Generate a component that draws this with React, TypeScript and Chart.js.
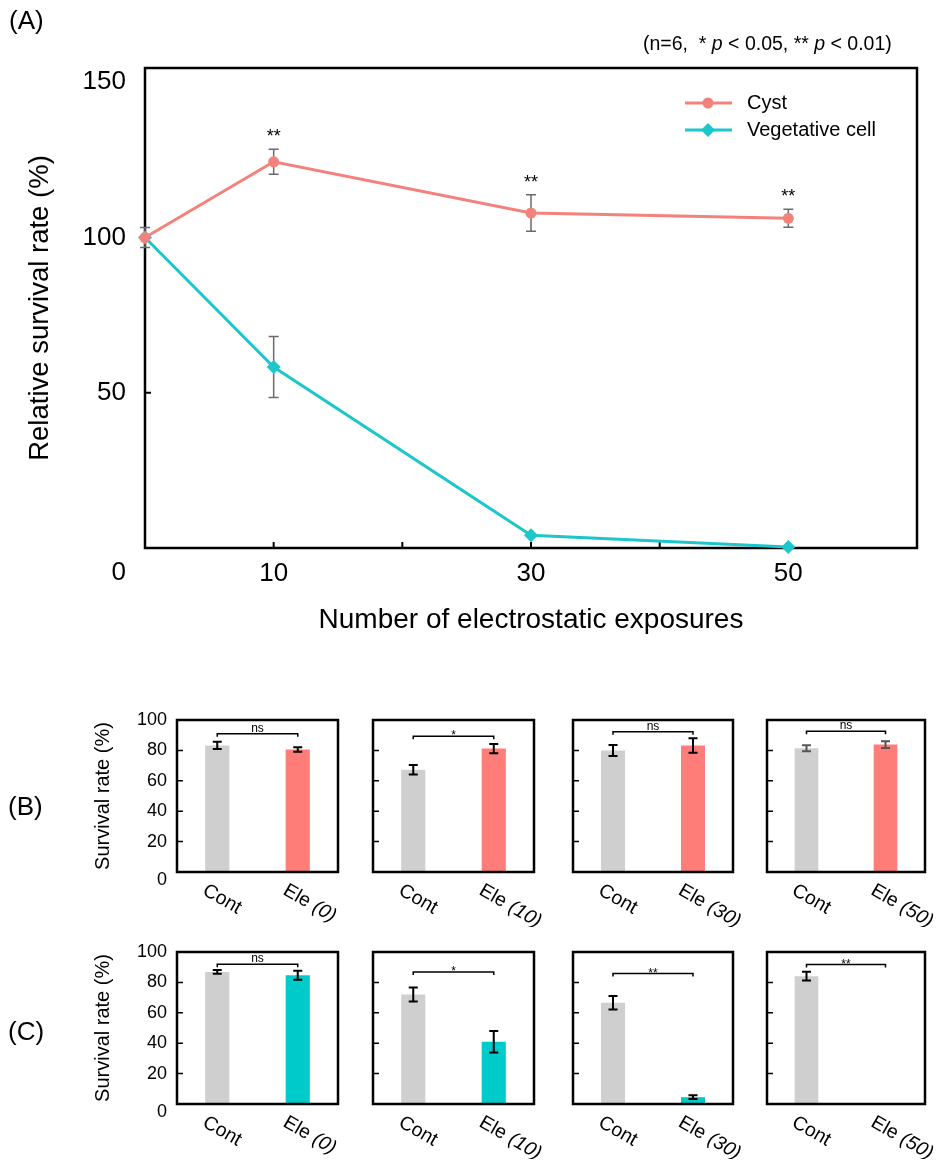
import React, { useEffect, useRef } from 'react';
import { Chart, registerables } from 'chart.js';

Chart.register(...registerables);

const FONT = '"Liberation Sans", Arial, Helvetica, sans-serif';
Chart.defaults.font.family = FONT;
Chart.defaults.color = '#000';

// ---------- Panel A data ----------
const exposuresA = [0, 10, 30, 50];
const cystMean = [100, 124.4, 107.9, 106.2];
const cystErr = [3.2, 4.0, 5.9, 2.9];
const vegMean = [100, 58.3, 4.1, 0.3];
const vegErr = [0, 9.8, 0, 0];
const cystStars = ['', '**', '**', '**'];
const xTickLabelsA = [10, 30, 50];
const xTickMarksA = [10, 20, 30, 40, 50];
const yTickLabelsA = [50, 100, 150];
const yTickMarksA = [50, 100];

// ---------- Panels B / C data ----------
const barExposures = ['0', '10', '30', '50'];
const cystCont = [83.3, 67.3, 79.9, 81.4];
const cystContErr = [2.4, 3.1, 3.6, 2.0];
const cystEle = [80.6, 81.2, 83.2, 83.8];
const cystEleErr = [1.5, 3.0, 4.8, 2.3];
const cystSig = ['ns', '*', 'ns', 'ns'];
const cystBracket = [91, 89.3, 92.2, 92.6];

const vegCont = [86.9, 72.1, 66.6, 84.1];
const vegContErr = [1.2, 4.6, 4.5, 2.9];
const vegEle = [84.7, 41.0, 4.5, 0];
const vegEleErr = [3.0, 7.1, 1.2, 0];
const vegSig = ['ns', '*', '**', '**'];
const vegBracket = [91.9, 86.9, 85.8, 91.7];

const barYTicks = [20, 40, 60, 80];

// ---------- colours ----------
const CYST_LINE = '#F4827C';
const VEG_LINE = '#1CC6CA';
const BAR_GRAY = '#CFCFCF';
const BAR_SALMON = '#FF7D78';
const BAR_CYAN = '#00CBCB';

type Part = { t: string; italic?: boolean };

function drawRich(ctx: CanvasRenderingContext2D, parts: Part[], x: number, y: number, size: number) {
  let cx = x;
  parts.forEach((p) => {
    ctx.font = `${p.italic ? 'italic ' : ''}${size}px ${FONT}`;
    ctx.fillText(p.t, cx, y);
    cx += ctx.measureText(p.t).width;
  });
}

function PanelA() {
  const ref = useRef<HTMLCanvasElement>(null);
  useEffect(() => {
    const canvas = ref.current!;
    const plugin = {
      id: 'panelA',
      beforeDatasetsDraw(chart: any) {
        const { ctx, chartArea: a, scales } = chart;
        const x = scales.x;
        const y = scales.y;
        ctx.save();
        ctx.strokeStyle = '#000';
        ctx.lineWidth = 2.5;
        ctx.strokeRect(a.left, a.top, a.right - a.left, a.bottom - a.top);
        ctx.lineWidth = 2;
        ctx.beginPath();
        xTickMarksA.forEach((v) => {
          const px = x.getPixelForValue(v);
          ctx.moveTo(px, a.bottom);
          ctx.lineTo(px, a.bottom - 6);
        });
        yTickMarksA.forEach((v) => {
          const py = y.getPixelForValue(v);
          ctx.moveTo(a.left, py);
          ctx.lineTo(a.left + 6, py);
        });
        ctx.stroke();
        // error bars
        ctx.strokeStyle = '#6b6b6b';
        ctx.lineWidth = 1.5;
        const series = [
          { m: cystMean, e: cystErr },
          { m: vegMean, e: vegErr },
        ];
        series.forEach((s) => {
          exposuresA.forEach((xv, i) => {
            if (!s.e[i]) return;
            const px = x.getPixelForValue(xv);
            const top = y.getPixelForValue(s.m[i] + s.e[i]);
            const bot = y.getPixelForValue(s.m[i] - s.e[i]);
            ctx.beginPath();
            ctx.moveTo(px, top);
            ctx.lineTo(px, bot);
            ctx.moveTo(px - 5, top);
            ctx.lineTo(px + 5, top);
            ctx.moveTo(px - 5, bot);
            ctx.lineTo(px + 5, bot);
            ctx.stroke();
          });
        });
        ctx.restore();
      },
      afterDraw(chart: any) {
        const { ctx, chartArea: a, scales } = chart;
        const x = scales.x;
        const y = scales.y;
        ctx.save();
        ctx.fillStyle = '#000';
        // stars
        ctx.font = `18px ${FONT}`;
        ctx.textAlign = 'center';
        ctx.textBaseline = 'alphabetic';
        exposuresA.forEach((xv, i) => {
          if (!cystStars[i]) return;
          const px = x.getPixelForValue(xv);
          const py = y.getPixelForValue(cystMean[i] + cystErr[i]);
          ctx.fillText(cystStars[i], px, py - 7);
        });
        // "0" corner label
        ctx.font = `26px ${FONT}`;
        ctx.textAlign = 'right';
        ctx.textBaseline = 'middle';
        ctx.fillText('0', a.left - 19, a.bottom + 25);
        // panel label
        ctx.textAlign = 'left';
        ctx.fillText('(A)', 9, 22);
        // annotation
        ctx.textBaseline = 'middle';
        drawRich(
          ctx,
          [
            { t: '(n=6,  * ' },
            { t: 'p', italic: true },
            { t: ' < 0.05, ** ' },
            { t: 'p', italic: true },
            { t: ' < 0.01)' },
          ],
          643,
          45,
          19.5
        );
        // legend
        const rows = [
          { y: 103, color: CYST_LINE, style: 'circle', label: 'Cyst' },
          { y: 130, color: VEG_LINE, style: 'diamond', label: 'Vegetative cell' },
        ];
        rows.forEach((r) => {
          ctx.strokeStyle = r.color;
          ctx.fillStyle = r.color;
          ctx.lineWidth = 3;
          ctx.beginPath();
          ctx.moveTo(685, r.y);
          ctx.lineTo(732, r.y);
          ctx.stroke();
          ctx.beginPath();
          if (r.style === 'circle') {
            ctx.arc(708, r.y, 5.5, 0, Math.PI * 2);
          } else {
            ctx.moveTo(708, r.y - 7);
            ctx.lineTo(715, r.y);
            ctx.lineTo(708, r.y + 7);
            ctx.lineTo(701, r.y);
            ctx.closePath();
          }
          ctx.fill();
          ctx.fillStyle = '#000';
          ctx.font = `20px ${FONT}`;
          ctx.textAlign = 'left';
          ctx.textBaseline = 'middle';
          ctx.fillText(r.label, 747, r.y);
        });
        ctx.restore();
      },
    };
    const chart = new Chart(canvas, {
      type: 'line',
      data: {
        datasets: [
          {
            label: 'Cyst',
            data: exposuresA.map((xv, i) => ({ x: xv, y: cystMean[i] })),
            borderColor: CYST_LINE,
            backgroundColor: CYST_LINE,
            borderWidth: 3,
            pointStyle: 'circle',
            pointRadius: 5.5,
            pointBorderWidth: 0,
            tension: 0,
            clip: false as any,
          },
          {
            label: 'Vegetative cell',
            data: exposuresA.map((xv, i) => ({ x: xv, y: vegMean[i] })),
            borderColor: VEG_LINE,
            backgroundColor: VEG_LINE,
            borderWidth: 3,
            pointStyle: 'rectRot',
            pointRadius: 7,
            pointBorderWidth: 0,
            tension: 0,
            clip: false as any,
          },
        ],
      },
      options: {
        animation: false,
        responsive: false,
        layout: { padding: { left: 0, top: 68, right: 28, bottom: 0 } },
        plugins: { legend: { display: false }, tooltip: { enabled: false } },
        scales: {
          x: {
            type: 'linear',
            min: 0,
            max: 60,
            afterBuildTicks: (s: any) => {
              s.ticks = xTickLabelsA.map((v) => ({ value: v }));
            },
            ticks: { font: { size: 26, family: FONT }, color: '#000', padding: 10, autoSkip: false, maxRotation: 0 },
            grid: { display: false, drawTicks: false },
            border: { display: false },
            title: {
              display: true,
              text: 'Number of electrostatic exposures',
              font: { size: 28, family: FONT },
              color: '#000',
              padding: { top: 0, bottom: 13 },
            },
            afterFit: (s: any) => {
              s.height = 102;
            },
          },
          y: {
            type: 'linear',
            min: 0,
            max: 154.6,
            afterBuildTicks: (s: any) => {
              s.ticks = yTickLabelsA.map((v) => ({ value: v }));
            },
            ticks: { font: { size: 26, family: FONT }, color: '#000', padding: 19 },
            grid: { display: false, drawTicks: false },
            border: { display: false },
            title: {
              display: true,
              text: 'Relative survival rate (%)',
              font: { size: 27.5, family: FONT },
              color: '#000',
              padding: { top: 24, bottom: 0 },
            },
            afterFit: (s: any) => {
              s.width = 145;
            },
          },
        },
      } as any,
      plugins: [plugin],
    });
    return () => chart.destroy();
  }, []);
  return <canvas ref={ref} width={945} height={650} style={{ position: 'absolute', left: 0, top: 0 }} />;
}

type BarProps = {
  idx: number;
  cont: number[];
  contErr: number[];
  ele: number[];
  eleErr: number[];
  sig: string[];
  bracket: number[];
  color: string;
  boxTop: number;
  panelLabel: string;
  panelLabelY: number;
  errColor: string[];
};

const COL_LEFT = [177, 373, 573, 767];
const COL_W = [161, 161, 160, 158];
const BOX_H = 152;

function BarPanel(p: BarProps) {
  const ref = useRef<HTMLCanvasElement>(null);
  const i = p.idx;
  const boxLeft = COL_LEFT[i];
  const boxRight = boxLeft + COL_W[i];
  const boxTop = p.boxTop;
  const boxBottom = boxTop + BOX_H;
  const cLeft = i === 0 ? 0 : boxLeft - 14;
  const cTop = boxTop - 30;
  const cRight = Math.min(945, boxRight + 48);
  const cBottom = boxBottom + 55;
  const W = cRight - cLeft;
  const H = cBottom - cTop;

  useEffect(() => {
    const canvas = ref.current!;
    const labels = ['Cont', `Ele (${barExposures[i]})`];
    const plugin = {
      id: 'barPanel',
      afterDatasetsDraw(chart: any) {
        const { ctx, chartArea: a, scales } = chart;
        const x = scales.x;
        const y = scales.y;
        ctx.save();
        // inward ticks
        ctx.strokeStyle = '#000';
        ctx.lineWidth = 1.5;
        ctx.beginPath();
        barYTicks.forEach((v) => {
          const py = y.getPixelForValue(v);
          ctx.moveTo(a.left, py);
          ctx.lineTo(a.left + 6, py);
        });
        ctx.stroke();
        // box
        ctx.lineWidth = 2.5;
        ctx.strokeRect(a.left, a.top, a.right - a.left, a.bottom - a.top);
        // error bars
        const means = [p.cont[i], p.ele[i]];
        const errs = [p.contErr[i], p.eleErr[i]];
        ctx.lineWidth = 2;
        ctx.strokeStyle = p.errColor[i];
        means.forEach((m, k) => {
          if (!errs[k]) return;
          const px = x.getPixelForValue(k);
          const top = y.getPixelForValue(m + errs[k]);
          const bot = y.getPixelForValue(m - errs[k]);
          ctx.beginPath();
          ctx.moveTo(px, top);
          ctx.lineTo(px, bot);
          ctx.moveTo(px - 4.5, top);
          ctx.lineTo(px + 4.5, top);
          ctx.moveTo(px - 4.5, bot);
          ctx.lineTo(px + 4.5, bot);
          ctx.stroke();
        });
        // significance bracket
        const by = y.getPixelForValue(p.bracket[i]);
        const x0 = x.getPixelForValue(0);
        const x1 = x.getPixelForValue(1);
        ctx.strokeStyle = '#000';
        ctx.lineWidth = 1.5;
        ctx.beginPath();
        ctx.moveTo(x0, by + 3);
        ctx.lineTo(x0, by);
        ctx.lineTo(x1, by);
        ctx.lineTo(x1, by + 3);
        ctx.stroke();
        ctx.fillStyle = '#000';
        ctx.font = `12px ${FONT}`;
        ctx.textAlign = 'center';
        ctx.textBaseline = 'alphabetic';
        const s = p.sig[i];
        ctx.fillText(s, (x0 + x1) / 2, s === 'ns' ? by - 2 : by + 3);
        ctx.restore();
      },
      afterDraw(chart: any) {
        const { ctx, chartArea: a, scales } = chart;
        const x = scales.x;
        ctx.save();
        ctx.fillStyle = '#000';
        ctx.textAlign = 'left';
        ctx.textBaseline = 'middle';
        labels.forEach((lab, k) => {
          const px = x.getPixelForValue(k);
          ctx.save();
          ctx.translate(px - 13, a.bottom + 17);
          ctx.rotate(Math.PI / 6);
          if (k === 0) {
            drawRich(ctx, [{ t: lab }], 0, 0, 19.5);
          } else {
            drawRich(ctx, [{ t: 'Ele ' }, { t: `(${barExposures[i]})`, italic: true }], 0, 0, 19.5);
          }
          ctx.restore();
        });
        if (i === 0) {
          // "0" label sits slightly below the axis line, as in the original
          ctx.font = `18px ${FONT}`;
          ctx.textAlign = 'right';
          ctx.textBaseline = 'middle';
          ctx.fillText('0', a.left - 10, a.bottom + 8);
          ctx.font = `26px ${FONT}`;
          ctx.textAlign = 'left';
          ctx.fillText(p.panelLabel, 8, p.panelLabelY - cTop);
        }
        ctx.restore();
      },
    };
    const chart = new Chart(canvas, {
      type: 'bar',
      data: {
        labels,
        datasets: [
          {
            label: 'Survival rate',
            data: [p.cont[i], p.ele[i]],
            backgroundColor: [BAR_GRAY, p.color],
            borderWidth: 0,
            barPercentage: 0.6,
            categoryPercentage: 0.5,
          },
        ],
      },
      options: {
        animation: false,
        responsive: false,
        layout: { padding: { left: 0, top: boxTop - cTop, right: cRight - boxRight, bottom: 0 } },
        plugins: { legend: { display: false }, tooltip: { enabled: false } },
        scales: {
          x: {
            type: 'category',
            ticks: { display: false },
            grid: { display: false, drawTicks: false },
            border: { display: false },
            afterFit: (s: any) => {
              s.height = cBottom - boxBottom;
            },
          },
          y: {
            type: 'linear',
            min: 0,
            max: 100,
            ticks: {
              display: i === 0,
              stepSize: 20,
              font: { size: 18, family: FONT },
              color: '#000',
              padding: 10,
              callback: (v: any) => (v === 0 ? '' : String(v)),
            },
            grid: { display: false, drawTicks: false },
            border: { display: false },
            title: {
              display: i === 0,
              text: 'Survival rate (%)',
              font: { size: 20, family: FONT },
              color: '#000',
              padding: { top: 103 - 12 - cLeft, bottom: 0 },
            },
            afterFit: (s: any) => {
              s.width = boxLeft - cLeft;
            },
          },
        },
      } as any,
      plugins: [plugin],
    });
    return () => chart.destroy();
  }, []);

  return <canvas ref={ref} width={W} height={H} style={{ position: 'absolute', left: cLeft, top: cTop }} />;
}

export default function App() {
  return (
    <div
      style={{
        position: 'absolute',
        left: 0,
        top: 0,
        width: 945,
        height: 1164,
        overflow: 'hidden',
        background: '#fff',
      }}
    >
      <PanelA />
      {[0, 1, 2, 3].map((k) => (
        <BarPanel
          key={'b' + k}
          idx={k}
          cont={cystCont}
          contErr={cystContErr}
          ele={cystEle}
          eleErr={cystEleErr}
          sig={cystSig}
          bracket={cystBracket}
          color={BAR_SALMON}
          boxTop={720}
          panelLabel="(B)"
          panelLabelY={808}
          errColor={['#000', '#000', '#000', '#555']}
        />
      ))}
      {[0, 1, 2, 3].map((k) => (
        <BarPanel
          key={'c' + k}
          idx={k}
          cont={vegCont}
          contErr={vegContErr}
          ele={vegEle}
          eleErr={vegEleErr}
          sig={vegSig}
          bracket={vegBracket}
          color={BAR_CYAN}
          boxTop={952}
          panelLabel="(C)"
          panelLabelY={1033}
          errColor={['#000', '#000', '#000', '#000']}
        />
      ))}
    </div>
  );
}
